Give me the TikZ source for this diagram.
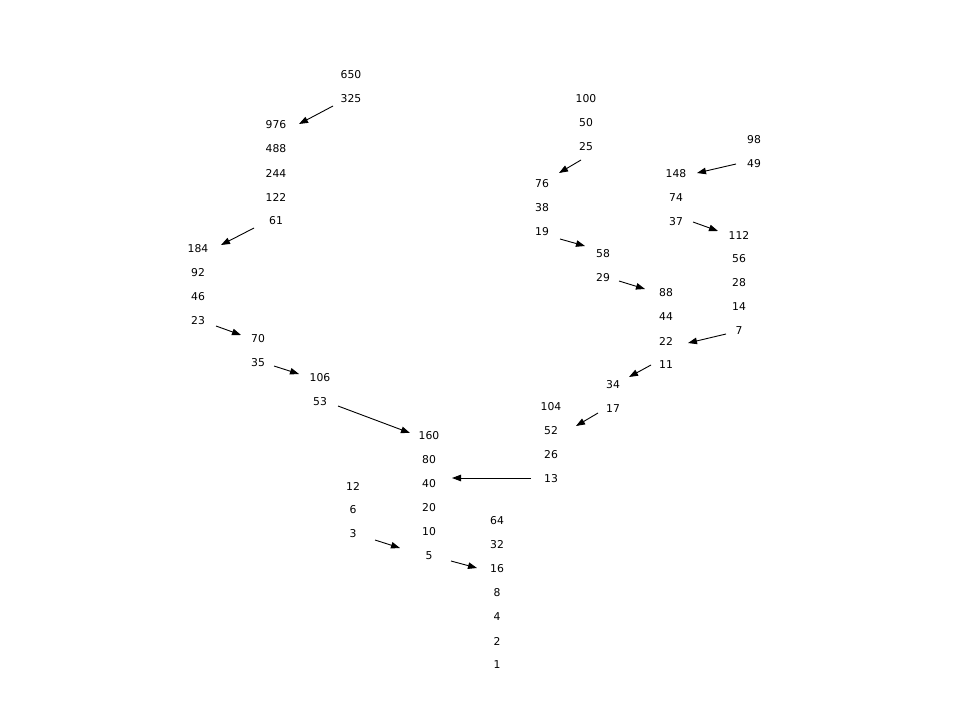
\documentclass[tikz,border=0pt]{standalone}
\usepackage{fontspec}
\setmainfont{DejaVu Sans}
\usetikzlibrary{arrows.meta}
\begin{document}
\begin{tikzpicture}[x=1pt,y=-1pt,
  num/.style={inner sep=0pt,font=\fontsize{10.8}{13}\selectfont},
  arr/.style={line width=0.9pt,-{Triangle[length=9pt,width=6.5pt]}}]
\useasboundingbox[fill=white] (0,0) rectangle (960,720);
\foreach \n/\x/\y in {650/351/74,325/351/98,976/276/124,488/276/148,244/276/172,122/276/196,61/276/220,
184/198/248,92/198/272,46/198/296,23/198/320,70/258/338,35/258/362,106/320/377,53/320/401,
160/429/435,80/429/459,40/429/483,20/429/507,10/429/531,5/429/555,
12/353/485,6/353/509,3/353/533,
64/497/520,32/497/544,16/497/568,8/497/592,4/497/616,2/497/640,1/497/664,
100/586/98,50/586/122,25/586/146,76/542/183,38/542/207,19/542/231,58/603/253,29/603/277,
88/666/292,44/666/316,22/666/340,11/666/364,98/754/139,49/754/163,
148/676/173,74/676/197,37/676/221,112/739/234,56/739/258,28/739/282,14/739/306,7/739/330,
34/613/384,17/613/408,104/551/406,52/551/430,26/551/454,13/551/478}
  {\node[num] (n\n) at (\x,\y+1) {\n};}
\foreach \a/\ax/\ay/\b/\bx/\by in {325/-18/7/976/23/-1, 61/-22/7/184/23/-4, 23/18/5/70/-17/-4,
35/16/3/106/-21/-4, 53/18/4/160/-19/-3, 3/22/6/5/-29/-8, 5/22/5/16/-20/-1, 13/-20/-1/40/23/-6,
25/-5/13/76/17/-11, 19/18/7/58/-18/-8, 49/-18/0/148/21/-1, 37/17/0/112/-21/-4,
29/16/3/88/-21/-4, 7/-13/3/22/22/2, 11/-15/0/34/16/-8, 17/-15/4/52/25/-5}
  {\draw[arr] ([shift={(\ax,\ay)}]n\a.center) -- ([shift={(\bx,\by)}]n\b.center);}
\end{tikzpicture}
\end{document}
